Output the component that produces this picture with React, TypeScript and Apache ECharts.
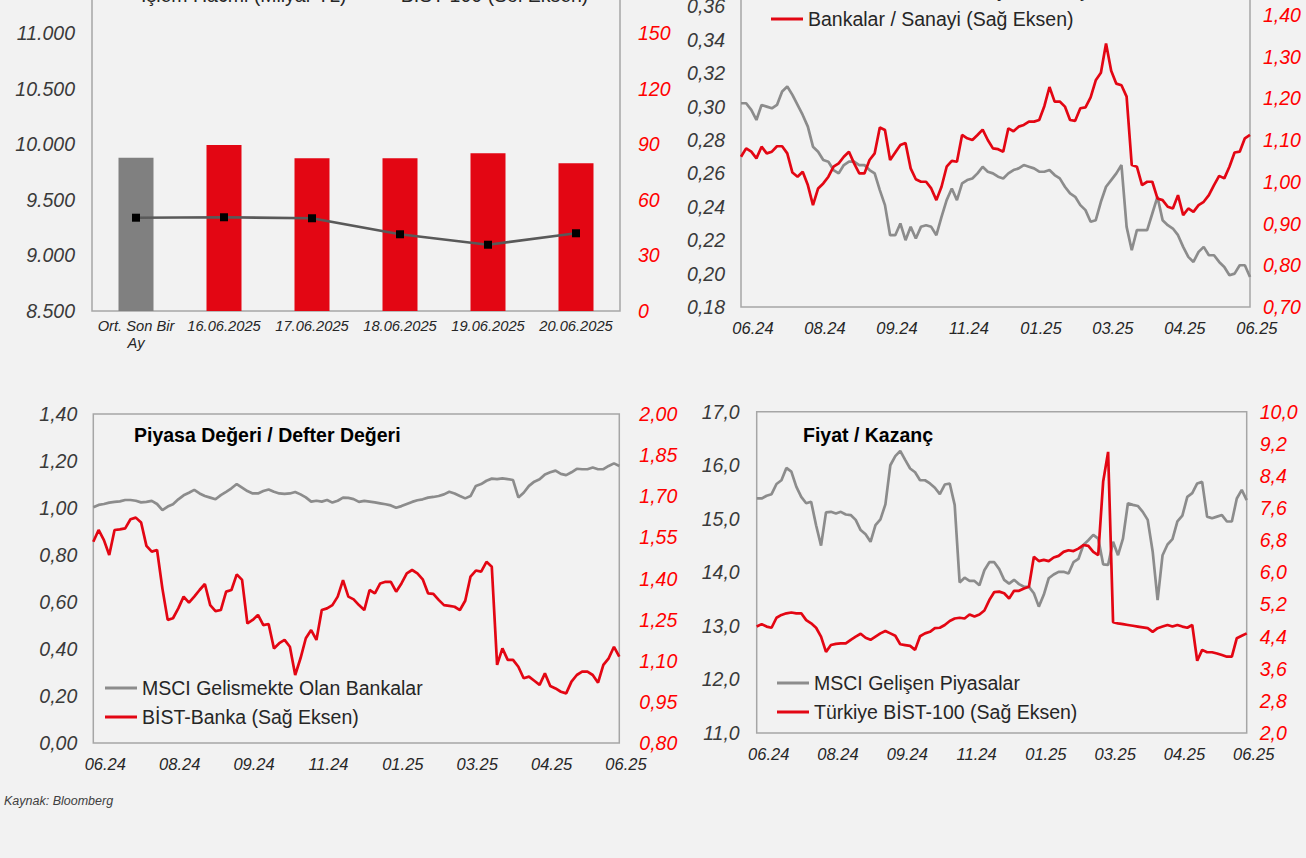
import React, { useEffect, useRef } from 'react';
import * as echarts from 'echarts';

const FONT = '"Liberation Sans", Arial, sans-serif';
const RED = '#e30613';
const GRAY = '#8c8c8c';
const BAR_GRAY = '#808080';
const AXIS_DARK = '#3a3a3a';
const AXIS_RED = '#ff0000';
const BORDER = '#a6a6a6';
// the chart canvas starts above the page so that the top of the upper panels is clipped, as in the reference
const OFF = 30;

// ---------- Panel 1 : İşlem hacmi & BİST-100 ----------
const p1Categories = ['Ort. Son Bir\nAy', '16.06.2025', '17.06.2025', '18.06.2025', '19.06.2025', '20.06.2025'];
const p1Volume = [82.7, 89.6, 82.4, 82.4, 85.1, 79.7];
const p1Bist = [9339, 9343, 9334, 9190, 9096, 9199];
const p1LeftTicks = [8500, 9000, 9500, 10000, 10500, 11000];
const p1LeftMax = 11500;
const p1RightTicks = [0, 30, 60, 90, 120, 150];
const p1RightMax = 180;

// ---------- shared date axis for the three line panels ----------
const xTickLabels = ['06.24', '08.24', '09.24', '11.24', '01.25', '03.25', '04.25', '06.25'];
const LABEL_STEP = 14;

// ---------- Panel 2 ----------
const p2GrayName = 'BİST-100 / MSCI Gelişmekte Piyasalar';
const p2RedName = 'Bankalar / Sanayi (Sağ Eksen)';
const p2Gray = [0.302, 0.302, 0.298, 0.292, 0.301, 0.300, 0.299, 0.301, 0.309, 0.312,
  0.307, 0.301, 0.295, 0.288, 0.276, 0.273, 0.268, 0.267, 0.262, 0.260,
  0.265, 0.267, 0.267, 0.265, 0.265, 0.262, 0.260, 0.250, 0.241, 0.223,
  0.223, 0.230, 0.220, 0.228, 0.221, 0.228, 0.229, 0.228, 0.223, 0.234,
  0.244, 0.251, 0.244, 0.254, 0.256, 0.257, 0.260, 0.264, 0.261, 0.260,
  0.258, 0.257, 0.260, 0.262, 0.263, 0.265, 0.264, 0.263, 0.261, 0.261,
  0.262, 0.259, 0.257, 0.252, 0.248, 0.246, 0.241, 0.238, 0.231, 0.232,
  0.243, 0.252, 0.256, 0.260, 0.265, 0.228, 0.214, 0.226, 0.226, 0.226,
  0.236, 0.246, 0.232, 0.229, 0.227, 0.223, 0.216, 0.210, 0.207, 0.213,
  0.216, 0.211, 0.211, 0.207, 0.204, 0.199, 0.200, 0.205, 0.205, 0.198];
const p2Red = [1.060, 1.080, 1.072, 1.056, 1.084, 1.068, 1.072, 1.085, 1.085, 1.068,
  1.022, 1.012, 1.024, 0.992, 0.944, 0.984, 0.996, 1.012, 1.036, 1.044,
  1.060, 1.072, 1.044, 1.020, 1.020, 1.052, 1.068, 1.130, 1.124, 1.052,
  1.070, 1.088, 1.093, 1.032, 1.006, 1.000, 1.000, 0.984, 0.956, 0.988,
  1.036, 1.050, 1.048, 1.112, 1.104, 1.100, 1.112, 1.125, 1.100, 1.080,
  1.078, 1.072, 1.128, 1.121, 1.132, 1.136, 1.144, 1.144, 1.148, 1.181,
  1.227, 1.192, 1.192, 1.180, 1.148, 1.146, 1.176, 1.178, 1.202, 1.243,
  1.261, 1.331, 1.266, 1.235, 1.231, 1.204, 1.040, 1.036, 0.992, 1.000,
  1.000, 0.960, 0.956, 0.940, 0.936, 0.968, 0.920, 0.936, 0.928, 0.944,
  0.952, 0.968, 0.992, 1.014, 1.008, 1.036, 1.070, 1.072, 1.104, 1.112];
const p2LeftTicks = [0.18, 0.20, 0.22, 0.24, 0.26, 0.28, 0.30, 0.32, 0.34, 0.36];
const p2LeftMax = 0.38;
const p2RightTicks = [0.70, 0.80, 0.90, 1.00, 1.10, 1.20, 1.30, 1.40];
const p2RightMax = 1.50;

// ---------- Panel 3 : PD/DD ----------
const p3Title = 'Piyasa Değeri / Defter Değeri';
const p3GrayName = 'MSCI Gelismekte Olan Bankalar';
const p3RedName = 'BİST-Banka (Sağ Eksen)';
const p3Gray = [1.003, 1.013, 1.017, 1.023, 1.026, 1.028, 1.034, 1.034, 1.031, 1.024,
  1.026, 1.030, 1.017, 0.991, 1.006, 1.016, 1.037, 1.054, 1.065, 1.077,
  1.062, 1.051, 1.044, 1.037, 1.055, 1.069, 1.084, 1.102, 1.087, 1.072,
  1.062, 1.062, 1.072, 1.079, 1.069, 1.062, 1.060, 1.062, 1.068, 1.058,
  1.045, 1.027, 1.031, 1.027, 1.034, 1.023, 1.031, 1.044, 1.043, 1.038,
  1.026, 1.030, 1.027, 1.024, 1.020, 1.016, 1.011, 1.001, 1.008, 1.017,
  1.026, 1.033, 1.037, 1.044, 1.047, 1.051, 1.058, 1.069, 1.062, 1.051,
  1.041, 1.051, 1.094, 1.102, 1.116, 1.125, 1.123, 1.126, 1.123, 1.119,
  1.045, 1.065, 1.094, 1.112, 1.122, 1.143, 1.152, 1.159, 1.145, 1.140,
  1.152, 1.167, 1.165, 1.165, 1.172, 1.165, 1.165, 1.179, 1.190, 1.179];
const p3Red = [1.534, 1.577, 1.540, 1.486, 1.577, 1.579, 1.583, 1.616, 1.622, 1.604,
  1.519, 1.498, 1.504, 1.364, 1.249, 1.255, 1.291, 1.334, 1.312, 1.334,
  1.358, 1.380, 1.303, 1.281, 1.285, 1.352, 1.358, 1.415, 1.395, 1.236,
  1.249, 1.267, 1.230, 1.234, 1.145, 1.164, 1.176, 1.151, 1.048, 1.109,
  1.182, 1.212, 1.176, 1.285, 1.291, 1.303, 1.334, 1.394, 1.334, 1.324,
  1.303, 1.285, 1.358, 1.346, 1.382, 1.388, 1.388, 1.352, 1.382, 1.419,
  1.431, 1.419, 1.397, 1.346, 1.344, 1.322, 1.303, 1.300, 1.297, 1.285,
  1.319, 1.407, 1.429, 1.425, 1.461, 1.443, 1.085, 1.145, 1.103, 1.103,
  1.078, 1.036, 1.042, 1.027, 1.012, 1.054, 1.008, 0.999, 0.987, 0.981,
  1.024, 1.048, 1.060, 1.060, 1.048, 1.020, 1.085, 1.109, 1.151, 1.115];
const p3LeftTicks = [0, 0.2, 0.4, 0.6, 0.8, 1.0, 1.2, 1.4];
const p3RightTicks = [0.80, 0.95, 1.10, 1.25, 1.40, 1.55, 1.70, 1.85, 2.00];

// ---------- Panel 4 : F/K ----------
const p4Title = 'Fiyat / Kazanç';
const p4GrayName = 'MSCI Gelişen Piyasalar';
const p4RedName = 'Türkiye BİST-100 (Sağ Eksen)';
const p4Gray = [15.38, 15.38, 15.43, 15.46, 15.65, 15.72, 15.95, 15.88, 15.60, 15.41,
  15.29, 15.32, 14.88, 14.50, 15.12, 15.13, 15.10, 15.13, 15.08, 15.07,
  14.98, 14.79, 14.71, 14.57, 14.88, 14.99, 15.27, 16.00, 16.17, 16.27,
  16.10, 15.94, 15.87, 15.72, 15.72, 15.66, 15.58, 15.46, 15.64, 15.66,
  15.26, 13.81, 13.90, 13.84, 13.84, 13.76, 14.04, 14.19, 14.19, 14.06,
  13.86, 13.79, 13.86, 13.78, 13.73, 13.73, 13.61, 13.36, 13.58, 13.89,
  13.96, 14.01, 14.01, 13.98, 14.19, 14.25, 14.51, 14.60, 14.70, 14.63,
  14.15, 14.14, 14.57, 14.32, 14.63, 15.29, 15.26, 15.24, 15.13, 14.98,
  14.39, 13.48, 14.32, 14.52, 14.62, 14.95, 15.06, 15.41, 15.48, 15.66,
  15.69, 15.04, 15.01, 15.04, 15.07, 14.95, 14.95, 15.38, 15.54, 15.35];
const p4Red = [4.65, 4.71, 4.65, 4.62, 4.87, 4.94, 4.98, 5.00, 4.98, 4.98,
  4.81, 4.73, 4.62, 4.40, 4.02, 4.19, 4.22, 4.23, 4.23, 4.32,
  4.40, 4.47, 4.37, 4.32, 4.40, 4.48, 4.54, 4.48, 4.42, 4.21,
  4.19, 4.17, 4.07, 4.41, 4.48, 4.52, 4.61, 4.62, 4.69, 4.79,
  4.85, 4.87, 4.85, 4.95, 4.90, 4.95, 5.05, 5.31, 5.51, 5.52,
  5.48, 5.35, 5.54, 5.54, 5.60, 5.64, 6.39, 6.28, 6.31, 6.28,
  6.37, 6.41, 6.51, 6.55, 6.53, 6.59, 6.68, 6.66, 6.51, 6.43,
  8.26, 9.00, 4.76, 4.73, 4.71, 4.69, 4.67, 4.65, 4.63, 4.61,
  4.52, 4.61, 4.65, 4.69, 4.65, 4.69, 4.65, 4.62, 4.69, 3.80,
  4.07, 4.01, 4.01, 3.98, 3.94, 3.90, 3.90, 4.36, 4.42, 4.48];
const p4LeftTicks = [11, 12, 13, 14, 15, 16, 17];
const p4RightTicks = [2.0, 2.8, 3.6, 4.4, 5.2, 6.0, 6.8, 7.6, 8.4, 9.2, 10.0];

const sourceText = 'Kaynak: Bloomberg';

const dateCats = p2Gray.map((_, i) => String(i));

const comma = (d: number) => (v: number) => v.toFixed(d).replace('.', ',');

function valueAxis(gridIndex: number, position: 'left' | 'right', ticks: number[], fmt: (v: number) => string, color: string, margin: number, max?: number) {
  return {
    type: 'value', gridIndex, position,
    min: ticks[0], max: max ?? ticks[ticks.length - 1],
    axisLine: { show: false }, axisTick: { show: false }, splitLine: { show: false },
    axisLabel: {
      customValues: ticks, formatter: fmt, color, fontSize: 19.5, fontStyle: 'italic',
      fontFamily: FONT, margin,
    },
  };
}

function dateAxis(gridIndex: number) {
  return {
    type: 'category', gridIndex, data: dateCats, boundaryGap: false,
    axisLine: { show: false }, axisTick: { show: false }, splitLine: { show: false },
    axisLabel: {
      interval: (i: number) => i % LABEL_STEP === 0,
      formatter: (v: string) => xTickLabels[Number(v) / LABEL_STEP] ?? '',
      fontSize: 16.5, fontStyle: 'italic', color: '#262626', fontFamily: FONT,
      margin: 12, padding: [0, 0, 0, 24],
    },
  };
}

function lineSeries(name: string, data: number[], xi: number, yi: number, color: string) {
  return {
    name, type: 'line', data, xAxisIndex: xi, yAxisIndex: yi,
    showSymbol: false, symbol: 'none', color,
    lineStyle: { color, width: 2.7 }, emphasis: { disabled: true },
  };
}

function lineLegend(names: string[], left: number, top: number) {
  return {
    data: names, left, top: top + OFF, orient: 'vertical', padding: 0,
    icon: 'rect', itemWidth: 32, itemHeight: 3, itemGap: 9, selectedMode: false,
    textStyle: { fontSize: 19.5, color: '#262626', fontFamily: FONT, lineHeight: 20 },
  };
}

const gridBase = { show: true, borderColor: BORDER, borderWidth: 1.5, backgroundColor: 'transparent' };

const option = {
  animation: false,
  backgroundColor: '#f2f2f2',
  textStyle: { fontFamily: FONT },
  grid: [
    { ...gridBase, left: 92, top: -22.6 + OFF, width: 528, height: 333.6 },
    { ...gridBase, left: 741, top: -27 + OFF, width: 509, height: 334 },
    { ...gridBase, left: 93.3, top: 414 + OFF, width: 526, height: 329 },
    { ...gridBase, left: 756.7, top: 411.7 + OFF, width: 490, height: 321.3 },
  ],
  xAxis: [
    {
      type: 'category', gridIndex: 0, data: p1Categories,
      axisLine: { show: false }, axisTick: { show: false }, splitLine: { show: false },
      axisLabel: { interval: 0, fontSize: 14.7, fontStyle: 'italic', color: '#262626', fontFamily: FONT, margin: 6, lineHeight: 17 },
    },
    dateAxis(1), dateAxis(2), dateAxis(3),
  ],
  yAxis: [
    valueAxis(0, 'left', p1LeftTicks, (v: number) => (v / 1000).toFixed(3), AXIS_DARK, 17, p1LeftMax),
    valueAxis(0, 'right', p1RightTicks, (v: number) => String(v), AXIS_RED, 18, p1RightMax),
    valueAxis(1, 'left', p2LeftTicks, comma(2), AXIS_DARK, 16, p2LeftMax),
    valueAxis(1, 'right', p2RightTicks, comma(2), AXIS_RED, 13, p2RightMax),
    valueAxis(2, 'left', p3LeftTicks, comma(2), AXIS_DARK, 16),
    valueAxis(2, 'right', p3RightTicks, comma(2), AXIS_RED, 20),
    valueAxis(3, 'left', p4LeftTicks, comma(1), AXIS_DARK, 17),
    valueAxis(3, 'right', p4RightTicks, comma(1), AXIS_RED, 13),
  ],
  legend: [
    {
      data: [
        { name: 'İşlem Hacmi (Milyar TL)', icon: 'rect' },
        { name: 'BİST-100 (Sol Eksen)', icon: 'rect', itemStyle: { color: '#595959' } },
      ],
      left: 104, top: -15 + OFF, orient: 'horizontal', padding: 0, itemGap: 17,
      itemWidth: 32, itemHeight: 8, selectedMode: false,
      textStyle: { fontSize: 19.5, color: '#262626', fontFamily: FONT, lineHeight: 20 },
    },
    lineLegend([p2GrayName, p2RedName], 771, -20),
    lineLegend([p3GrayName, p3RedName], 105, 678),
    lineLegend([p4GrayName, p4RedName], 777, 673),
  ],
  series: [
    {
      name: 'İşlem Hacmi (Milyar TL)', type: 'bar', xAxisIndex: 0, yAxisIndex: 1, barWidth: 35,
      color: RED,
      data: p1Volume.map((v, i) => ({ value: v, itemStyle: { color: i === 0 ? BAR_GRAY : RED } })),
      emphasis: { disabled: true },
    },
    {
      name: 'BİST-100 (Sol Eksen)', type: 'line', xAxisIndex: 0, yAxisIndex: 0, data: p1Bist,
      symbol: 'rect', symbolSize: 8, showSymbol: true,
      lineStyle: { color: '#595959', width: 2.6 }, itemStyle: { color: '#000000' },
      emphasis: { disabled: true },
    },
    lineSeries(p2GrayName, p2Gray, 1, 2, GRAY),
    lineSeries(p2RedName, p2Red, 1, 3, RED),
    lineSeries(p3GrayName, p3Gray, 2, 4, GRAY),
    lineSeries(p3RedName, p3Red, 2, 5, RED),
    lineSeries(p4GrayName, p4Gray, 3, 6, GRAY),
    lineSeries(p4RedName, p4Red, 3, 7, RED),
  ],
  graphic: [
    {
      type: 'text', x: 134, y: 435 + OFF,
      style: { text: p3Title, fontSize: 19.5, fontWeight: 'bold', fontFamily: FONT, fill: '#000', verticalAlign: 'middle' },
    },
    {
      type: 'text', x: 803, y: 435 + OFF,
      style: { text: p4Title, fontSize: 19.5, fontWeight: 'bold', fontFamily: FONT, fill: '#000', verticalAlign: 'middle' },
    },
    {
      type: 'text', x: 4, y: 801 + OFF,
      style: { text: sourceText, fontSize: 12.5, fontStyle: 'italic', fontFamily: FONT, fill: '#404040', verticalAlign: 'middle' },
    },
  ],
};

export default function App() {
  const ref = useRef<HTMLDivElement>(null);
  useEffect(() => {
    if (!ref.current) return;
    const chart = echarts.init(ref.current, null, { renderer: 'svg' });
    chart.setOption(option as any);
    return () => chart.dispose();
  }, []);
  return (
    <div
      ref={ref}
      style={{ position: 'fixed', left: 0, top: -OFF, width: 1306, height: 858 + OFF, background: '#f2f2f2' }}
    />
  );
}
